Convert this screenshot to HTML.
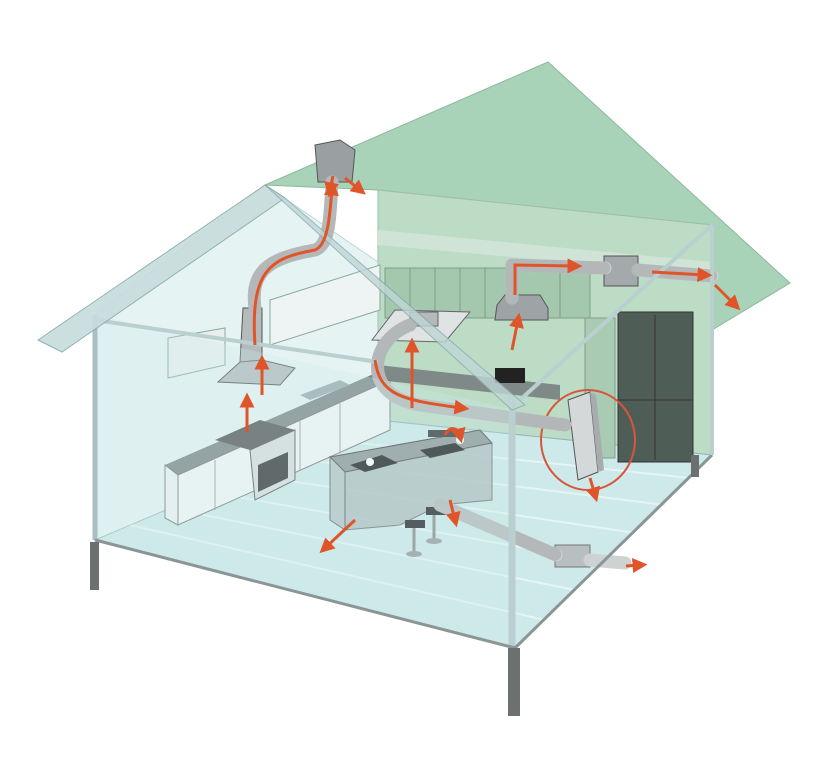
<!DOCTYPE html>
<html><head><meta charset="utf-8"><style>html,body{margin:0;padding:0;background:#fff}svg{display:block}</style></head>
<body>
<svg width="831" height="759" viewBox="0 0 831 759" xmlns="http://www.w3.org/2000/svg">
<defs>
<marker id="ah" markerWidth="5" markerHeight="5" refX="2.5" refY="2.5" orient="auto"><path d="M0,0 L5,2.5 L0,5 z" fill="#e0542a"/></marker>
</defs>
<!-- green back roof/wall -->
<polygon points="265,185 548,62 790,283 712,330 712,225 378,190" fill="#a9d3b8" stroke="#8fb89c"/>
<polygon points="378,190 712,225 712,455 378,420" fill="#bcdcc6" stroke="#9fbfa9"/>
<polygon points="378,230 712,262 712,275 378,245" fill="#cfe4d6"/>
<!-- floor -->
<polygon points="95,540 378,420 712,455 515,648" fill="#cde9ea" stroke="#8fb5b8"/>
<g stroke="#e6f4f4" stroke-width="2">
<line x1="130" y1="525" x2="545" y2="620"/><line x1="170" y1="508" x2="575" y2="590"/><line x1="210" y1="492" x2="605" y2="562"/><line x1="250" y1="475" x2="635" y2="533"/><line x1="290" y1="458" x2="665" y2="505"/><line x1="330" y1="440" x2="690" y2="478"/>
</g>
<!-- left gable wall -->
<polygon points="95,315 265,185 378,262 378,420 95,540" fill="#dcefef" opacity="0.7" stroke="#a7c4c6"/>
<!-- back cabinets on green wall -->
<g fill="#a3c8ae" stroke="#7f9e88">
<rect x="385" y="268" width="205" height="50"/>
</g>
<g stroke="#7f9e88"><line x1="410" y1="268" x2="410" y2="318"/><line x1="435" y1="268" x2="435" y2="318"/><line x1="460" y1="268" x2="460" y2="318"/><line x1="485" y1="268" x2="485" y2="318"/><line x1="560" y1="268" x2="560" y2="318"/></g>
<rect x="585" y="318" width="30" height="140" fill="#a9cbb3" stroke="#7f9e88"/>
<!-- left wall upper cabinets -->
<polygon points="270,300 380,265 380,310 270,345" fill="#eef3f3" stroke="#8a9"/>
<polygon points="168,338 225,328 225,365 168,378" fill="#e9efef" stroke="#8a9"/>
<!-- back counter -->
<polygon points="378,365 560,385 560,400 378,380" fill="#7f8a88"/>
<rect x="495" y="368" width="30" height="15" fill="#222"/>
<!-- left counter -->
<polygon points="165,465 378,372 390,380 178,475" fill="#7b8485"/>
<polygon points="165,465 178,475 178,525 165,518" fill="#eef2f2" stroke="#777"/>
<polygon points="178,475 390,380 390,430 178,525" fill="#f2f5f5" stroke="#777"/>
<g stroke="#999"><line x1="215" y1="460" x2="215" y2="510"/><line x1="300" y1="420" x2="300" y2="470"/><line x1="340" y1="402" x2="340" y2="452"/></g>
<!-- stove/oven -->
<polygon points="215,440 260,420 295,430 250,450" fill="#555"/>
<polygon points="250,450 295,430 295,480 255,500" fill="#d8dcdc" stroke="#555"/>
<polygon points="258,465 288,452 288,478 258,492" fill="#333"/>
<polygon points="300,395 340,380 350,385 310,400" fill="#9aa"/>
<!-- fridge -->
<rect x="618" y="312" width="75" height="150" fill="#4f5d57" stroke="#333"/>
<line x1="655" y1="315" x2="655" y2="460" stroke="#333"/><line x1="618" y1="400" x2="693" y2="400" stroke="#333"/>
<!-- hoods -->
<polygon points="243,308 262,308 262,360 295,368 280,385 218,382 240,362" fill="#b5bbbd" stroke="#555"/>
<line x1="240" y1="362" x2="262" y2="360" stroke="#666"/>
<polygon points="372,340 395,310 470,312 445,342" fill="#dfe3e3" stroke="#666"/>
<rect x="410" y="312" width="28" height="14" fill="#b4b9ba" stroke="#666"/>
<polygon points="497,305 505,295 540,295 548,308 548,320 495,320" fill="#9ea4a5" stroke="#555"/>
<polygon points="315,145 340,140 355,150 352,182 318,182" fill="#9aa0a2" stroke="#555"/>
<rect x="604" y="256" width="34" height="30" fill="#a4a9ab" stroke="#555"/>
<!-- island -->
<polygon points="330,457 480,430 492,443 345,472" fill="#8c9496" stroke="#444"/>
<polygon points="330,457 345,472 345,530 330,520" fill="#b4c1c2" stroke="#555" opacity="0.9"/>
<polygon points="345,472 492,443 492,500 440,505 400,525 345,530" fill="#a9b6b8" stroke="#555" opacity="0.8"/>
<polygon points="350,465 382,455 398,463 365,472" fill="#1a1a1a"/>
<polygon points="420,450 455,443 465,450 430,458" fill="#1a1a1a"/>
<rect x="428" y="430" width="32" height="7" fill="#333"/>
<circle cx="370" cy="462" r="4" fill="#fff"/><circle cx="460" cy="440" r="4" fill="#fff"/>
<!-- stools -->
<rect x="405" y="520" width="20" height="8" fill="#222"/><rect x="426" y="507" width="20" height="8" fill="#222"/>
<line x1="414" y1="528" x2="414" y2="553" stroke="#888" stroke-width="3"/><line x1="434" y1="515" x2="434" y2="540" stroke="#888" stroke-width="3"/>
<ellipse cx="414" cy="554" rx="8" ry="3" fill="#999"/><ellipse cx="434" cy="541" rx="8" ry="3" fill="#999"/>
<!-- wall unit -->
<polygon points="568,400 590,392 598,472 578,480" fill="#d4d8d8" stroke="#555"/>
<polygon points="590,392 596,395 604,470 598,472" fill="#a8acac"/>
<ellipse cx="588" cy="440" rx="47" ry="50" fill="none" stroke="#d9553a" stroke-width="2"/>
<rect x="555" y="545" width="35" height="22" fill="#b8bfc0" stroke="#777"/>
<!-- ducts -->
<g fill="none" stroke-linecap="round">
<g stroke="#cfd2d3" stroke-width="13">
<path d="M255,308 C250,270 270,258 315,250 C330,245 330,215 332,182"/>
<path d="M410,325 C370,340 360,395 420,405 L565,425"/>
<path d="M512,298 L512,265 L605,268"/>
<path d="M638,270 L712,276"/>
<path d="M440,505 L556,555"/>
<path d="M590,560 L625,563"/>
</g>
<g stroke="#a9adae" stroke-width="13" stroke-dasharray="1 3" opacity="0.7">
<path d="M255,308 C250,270 270,258 315,250 C330,245 330,215 332,182"/>
<path d="M410,325 C370,340 360,395 420,405 L565,425"/>
<path d="M512,298 L512,265 L605,268"/>
<path d="M638,270 L712,276"/>
<path d="M440,505 L556,555"/>
</g>
</g>
<!-- front wall glass -->
<polygon points="95,315 515,410 515,648 95,540" fill="#cdeaeb" opacity="0.3"/>
<line x1="95" y1="315" x2="95" y2="540" stroke="#a9c0c2" stroke-width="5"/>
<line x1="512" y1="395" x2="512" y2="648" stroke="#b9cfd0" stroke-width="7"/>
<line x1="95" y1="540" x2="515" y2="648" stroke="#8b9596" stroke-width="3"/>
<line x1="515" y1="648" x2="712" y2="455" stroke="#8b9596" stroke-width="3"/>
<line x1="712" y1="225" x2="712" y2="455" stroke="#b9cfd0" stroke-width="4"/>
<line x1="520" y1="400" x2="712" y2="225" stroke="#b9cfd0" stroke-width="4"/>
<line x1="95" y1="320" x2="378" y2="362" stroke="#b9cfd0" stroke-width="4"/>
<!-- left roof -->
<polygon points="38,340 265,185 285,198 62,352" fill="#c7dcdc" stroke="#8aa" opacity="0.9"/>
<polygon points="265,185 285,198 525,405 512,410" fill="#bfd6d6" stroke="#8aa" opacity="0.8"/>
<!-- arrows -->
<g stroke="#e0542a" stroke-width="3" fill="none" marker-end="url(#ah)">
<path d="M262,395 L262,362"/><path d="M247,432 L247,400"/>
<path d="M255,345 C250,270 270,258 315,250 C328,245 330,215 332,188"/>
<path d="M345,178 L360,190"/><path d="M333,176 L330,190"/>
<path d="M412,408 L412,345"/>
<path d="M375,360 C380,395 400,400 462,408"/>
<path d="M512,350 L518,320"/>
<path d="M515,295 L515,265 L575,266"/>
<path d="M652,272 L705,275"/><path d="M715,285 L735,305"/>
<path d="M590,478 L595,495"/>
<path d="M355,520 L325,548"/>
<path d="M450,500 L455,520"/>
<path d="M626,566 L640,565"/>
<path d="M445,435 C450,425 458,428 460,436"/>
</g>
<!-- legs -->
<rect x="90" y="542" width="9" height="48" fill="#6d7070"/>
<rect x="508" y="648" width="12" height="68" fill="#6d7070"/>
<rect x="691" y="455" width="8" height="22" fill="#6d7070"/>
</svg>
</body></html>
